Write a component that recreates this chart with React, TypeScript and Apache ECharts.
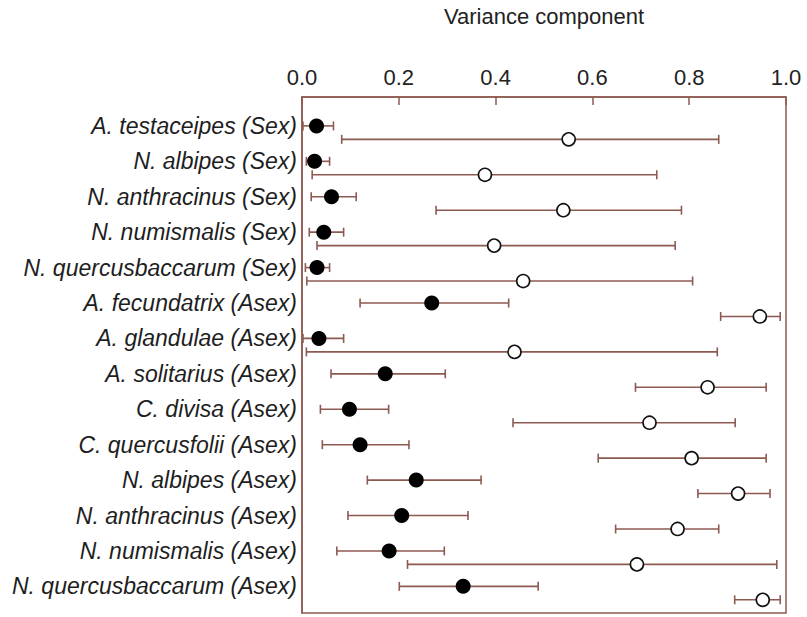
import React, { useEffect, useRef } from "react";
import * as echarts from "echarts";

const categories = [
  "A. testaceipes (Sex)",
  "N. albipes (Sex)",
  "N. anthracinus (Sex)",
  "N. numismalis (Sex)",
  "N. quercusbaccarum (Sex)",
  "A. fecundatrix (Asex)",
  "A. glandulae (Asex)",
  "A. solitarius (Asex)",
  "C. divisa (Asex)",
  "C. quercusfolii (Asex)",
  "N. albipes (Asex)",
  "N. anthracinus (Asex)",
  "N. numismalis (Asex)",
  "N. quercusbaccarum (Asex)",
];

// filled (upper) estimates
const filledMean = [0.030, 0.026, 0.061, 0.045, 0.031, 0.268, 0.035, 0.172, 0.098, 0.120, 0.236, 0.206, 0.180, 0.333];
const filledLow = [0.002, 0.009, 0.019, 0.015, 0.007, 0.120, 0.002, 0.060, 0.038, 0.042, 0.135, 0.095, 0.072, 0.201];
const filledHigh = [0.065, 0.057, 0.112, 0.086, 0.057, 0.427, 0.086, 0.296, 0.179, 0.221, 0.370, 0.343, 0.294, 0.488];

// open (lower) estimates
const openMean = [0.551, 0.378, 0.540, 0.397, 0.457, 0.946, 0.439, 0.838, 0.718, 0.805, 0.901, 0.776, 0.692, 0.952];
const openLow = [0.082, 0.021, 0.277, 0.031, 0.010, 0.865, 0.009, 0.689, 0.436, 0.612, 0.818, 0.648, 0.218, 0.894];
const openHigh = [0.861, 0.733, 0.784, 0.771, 0.807, 0.988, 0.858, 0.959, 0.895, 0.959, 0.967, 0.861, 0.981, 0.988];

const xTicks = [0, 0.2, 0.4, 0.6, 0.8, 1.0];

const OPEN_OFFSET = 0.38;
const BROWN = "#8c5a50";
const FONT = "'Liberation Sans', Arial, Helvetica, sans-serif";

export default function App() {
  const ref = useRef<HTMLDivElement>(null);

  useEffect(() => {
    if (!ref.current) return;
    const chart = echarts.init(ref.current, undefined, { renderer: "svg" });

    const errData: number[][] = [];
    categories.forEach((_, i) => {
      errData.push([i, filledLow[i], filledHigh[i]]);
      errData.push([i + OPEN_OFFSET, openLow[i], openHigh[i]]);
    });

    const renderItem = (params: any, api: any) => {
      const y = api.value(0);
      const lo = api.value(1);
      const hi = api.value(2);
      const p1 = api.coord([lo, y]);
      const p2 = api.coord([hi, y]);
      const h = 4.5;
      const style = { stroke: BROWN, lineWidth: 1.6 };
      return {
        type: "group",
        children: [
          { type: "line", shape: { x1: p1[0], y1: p1[1], x2: p2[0], y2: p2[1] }, style },
          { type: "line", shape: { x1: p1[0], y1: p1[1] - h, x2: p1[0], y2: p1[1] + h }, style },
          { type: "line", shape: { x1: p2[0], y1: p2[1] - h, x2: p2[0], y2: p2[1] + h }, style },
        ],
      };
    };

    chart.setOption({
      animation: false,
      backgroundColor: "#ffffff",
      textStyle: { fontFamily: FONT },
      grid: {
        left: 302,
        top: 90,
        width: 484,
        height: 523,
        show: true,
        borderColor: BROWN,
        borderWidth: 1.5,
        containLabel: false,
      },
      xAxis: {
        type: "value",
        position: "top",
        min: 0,
        max: 1,
        interval: 0.2,
        name: "Variance component",
        nameLocation: "middle",
        nameGap: 70,
        nameTextStyle: { fontSize: 22, color: "#222", fontFamily: FONT },
        axisLine: { show: true, onZero: false, lineStyle: { color: BROWN, width: 1.5 } },
        axisTick: { show: true, inside: true, length: 8, lineStyle: { color: BROWN, width: 1.5 }, customValues: xTicks },
        axisLabel: {
          fontSize: 22,
          color: "#222",
          margin: 9,
          fontFamily: FONT,
          customValues: xTicks,
          formatter: (v: number) => v.toFixed(1),
        },
        splitLine: { show: false },
      },
      yAxis: {
        type: "value",
        inverse: true,
        min: -0.816,
        max: 13.752,
        axisLine: { show: true, onZero: false, lineStyle: { color: BROWN, width: 1.5 } },
        axisTick: { show: false },
        splitLine: { show: false },
        axisLabel: {
          customValues: categories.map((_, i) => i),
          formatter: (v: number) => categories[Math.round(v)] ?? "",
          fontSize: 23,
          fontStyle: "italic",
          color: "#1e1e1e",
          margin: 5,
          fontFamily: FONT,
        },
      },
      series: [
        {
          type: "custom",
          renderItem,
          data: errData,
          encode: { x: [1, 2], y: 0 },
          z: 1,
          silent: true,
        },
        {
          type: "scatter",
          data: filledMean.map((v, i) => [v, i]),
          symbol: "circle",
          symbolSize: 15,
          itemStyle: { color: "#000", borderColor: "#000", borderWidth: 0, opacity: 1 },
          z: 3,
        },
        {
          type: "scatter",
          data: openMean.map((v, i) => [v, i + OPEN_OFFSET]),
          symbol: "circle",
          symbolSize: 13,
          itemStyle: { color: "#fff", borderColor: "#111", borderWidth: 1.6, opacity: 1 },
          z: 3,
        },
      ],
    });

    return () => chart.dispose();
  }, []);

  return (
    <div
      ref={ref}
      style={{ position: "fixed", left: 0, top: 0, width: 807, height: 617, background: "#fff" }}
    />
  );
}
